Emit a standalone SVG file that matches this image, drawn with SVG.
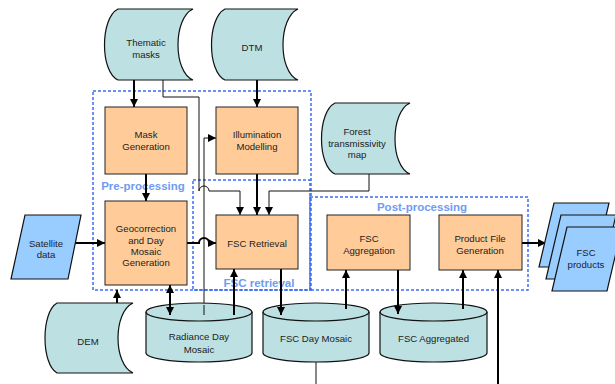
<svg xmlns="http://www.w3.org/2000/svg" width="615" height="384" viewBox="0 0 615 384">
<style>
text{font-family:"Liberation Sans",Arial,sans-serif;font-size:9.6px;fill:#222;text-anchor:middle}
.box{fill:#ffcc99;stroke:#222;stroke-width:1}
.tape{fill:#bde0e3;stroke:#111;stroke-width:1.2}
.para{fill:#99ccff;stroke:#111;stroke-width:1.2}
.cyl{fill:#bde0e3;stroke:#111;stroke-width:1.2}
.grp{fill:none;stroke:#3a6df0;stroke-width:1.5;stroke-dasharray:3,2}
.glabel{font-size:11.5px;font-weight:bold;fill:#6f9cf2}
.thin{fill:none;stroke:#111;stroke-width:1}
.thick{fill:none;stroke:#000;stroke-width:2}
.arr{marker-end:url(#ah)}
.dbl{marker-start:url(#ah);marker-end:url(#ah)}
</style>
<defs>
<marker id="ah" viewBox="0 0 10 10" refX="10" refY="5" markerWidth="8" markerHeight="8" markerUnits="userSpaceOnUse" orient="auto-start-reverse">
<path d="M0,0 L10,5 L0,10 Z" fill="#000"/>
</marker>
</defs>
<rect width="615" height="384" fill="#fff"/>

<g id="groups">
<rect class="grp" x="93" y="91" width="218" height="199"/>
<rect class="grp" x="193" y="180" width="117" height="110"/>
<rect class="grp" x="310" y="197" width="218" height="93"/>
<text class="glabel" x="143" y="190">Pre-processing</text>
<text class="glabel" x="259" y="287">FSC retrieval</text>
<text class="glabel" x="422" y="211">Post-processing</text>
</g>

<g id="connectors">
<path class="thick arr" d="M134,80 V107"/>
<path class="thick arr" d="M257,80 V107"/>
<path class="thin arr" d="M163,80 V97 H199 V191 A5,5 0 0 1 209,191 H240 V215"/>
<path class="thin arr" d="M204,315 V138 H216"/>
<path class="thin arr" d="M369,174 V191 H269 V215"/>
<path class="thick arr" d="M146,174 V201"/>
<path class="thick arr" d="M257,174 V215"/>
<path class="thick arr" d="M72,243 H105"/>
<path class="thick arr" d="M187,243 H199 A5,5 0 0 1 209,243 H216"/>
<path class="thick dbl" d="M170,285 V315"/>
<path class="thick arr" d="M117,303 V290"/>
<path class="thick arr" d="M234,315 V269"/>
<path class="thick arr" d="M281,269 V315"/>
<path class="thick arr" d="M346,309 V270"/>
<path class="thick arr" d="M398,270 V314"/>
<path class="thick arr" d="M463,309 V270"/>
<path class="thick arr" d="M498,384 V270"/>
<path class="thick arr" d="M522,243 H546"/>
<path class="thin" d="M316,362 V384"/>
</g>

<g id="thematic-masks">
<path class="tape" d="M118,9 H193 C173,18 173,72 193,80 H118 C100,72 100,18 118,9 Z"/>
<text x="146" y="45.5">Thematic</text>
<text x="146" y="57.5">masks</text>
</g>
<g id="dtm">
<path class="tape" d="M225,9 H298 C278,18 278,72 298,80 H225 C207,72 207,18 225,9 Z"/>
<text x="252" y="50.5">DTM</text>
</g>
<g id="forest-map">
<path class="tape" d="M335,103 H410 C390,112 390,166 410,174 H335 C317,166 317,112 335,103 Z"/>
<text x="357" y="134.5">Forest</text>
<text x="357" y="146.5">transmissivity</text>
<text x="357" y="157.5">map</text>
</g>
<g id="dem">
<path class="tape" d="M57,303 H133 C113,312 113,364 133,373 H57 C41,364 41,312 57,303 Z"/>
<text x="88" y="344.5">DEM</text>
</g>

<g id="satellite-data">
<path class="para" d="M25,215 H81 L68,279 H11 Z"/>
<text x="46" y="247">Satellite</text>
<text x="46" y="258">data</text>
</g>

<g id="mask-generation">
<rect class="box" x="105" y="107" width="82" height="67"/>
<text x="146" y="138">Mask</text>
<text x="146" y="150">Generation</text>
</g>
<g id="illumination-modelling">
<rect class="box" x="216" y="107" width="82" height="67"/>
<text x="257" y="138">Illumination</text>
<text x="257" y="150">Modelling</text>
</g>
<g id="geocorrection">
<rect class="box" x="105" y="201" width="82" height="84"/>
<text x="146" y="232">Geocorrection</text>
<text x="146" y="244">and Day</text>
<text x="146" y="255">Mosaic</text>
<text x="146" y="266">Generation</text>
</g>
<g id="fsc-retrieval">
<rect class="box" x="216" y="215" width="82" height="54"/>
<text x="257" y="246.5">FSC Retrieval</text>
</g>
<g id="fsc-aggregation">
<rect class="box" x="327" y="215" width="83" height="55"/>
<text x="369" y="242">FSC</text>
<text x="369" y="253.5">Aggregation</text>
</g>
<g id="product-file-generation">
<rect class="box" x="439" y="215" width="83" height="55"/>
<text x="480" y="242">Product File</text>
<text x="480" y="253.5">Generation</text>
</g>

<g id="fsc-products">
<path class="para" d="M554,203 H609 L594,267 H539 Z"/>
<path class="para" d="M561,215 H616 L601,279 H546 Z"/>
<path class="para" d="M567,227 H622 L607,291 H552 Z"/>
<text x="586" y="256">FSC</text>
<text x="586" y="268">products</text>
</g>

<g id="radiance-day-mosaic">
<path class="cyl" d="M146,312 V353 A53,9 0 0 0 252,353 V312"/>
<ellipse class="cyl" cx="199" cy="312" rx="53" ry="9"/>
<text x="199" y="340">Radiance Day</text>
<text x="199" y="352.5">Mosaic</text>
</g>
<g id="fsc-day-mosaic">
<path class="cyl" d="M263,312 V353 A53,9 0 0 0 369,353 V312"/>
<ellipse class="cyl" cx="316" cy="312" rx="53" ry="9"/>
<text x="316" y="341.5">FSC Day Mosaic</text>
</g>
<g id="fsc-aggregated">
<path class="cyl" d="M380,312 V353 A53.5,9 0 0 0 487,353 V312"/>
<ellipse class="cyl" cx="433.5" cy="312" rx="53.5" ry="9"/>
<text x="433.5" y="341.5">FSC Aggregated</text>
</g>

<g id="overlay-lines">
<path class="thin" d="M204,315 V305"/>
<path class="thick" d="M234,315 V305"/>
<path class="thick arr" d="M170,300 V315"/>
<path class="thick arr" d="M281,300 V315"/>
<path class="thick" d="M346,309 V300"/>
<path class="thick arr" d="M398,300 V314"/>
<path class="thick" d="M463,309 V300"/>
</g>
</svg>
